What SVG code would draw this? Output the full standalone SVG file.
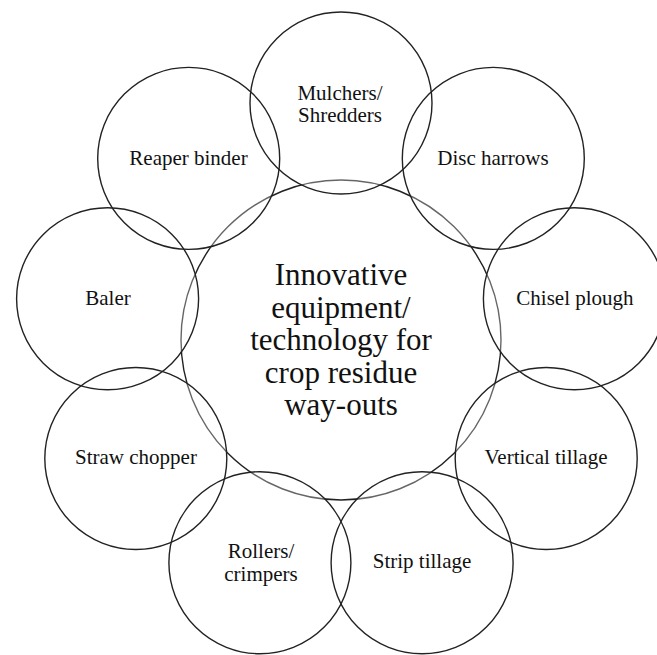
<svg xmlns="http://www.w3.org/2000/svg" width="657" height="655" viewBox="0 0 657 655">
  <style>
    .ring { fill: none; stroke: #222; stroke-width: 1.4; }
    .lbl { font-size: 21px; fill: #111; text-anchor: middle; }
    .hub { font-size: 31px; fill: #111; text-anchor: middle; }
  </style>
  <defs>
    <mask id="fade" maskUnits="userSpaceOnUse" x="0" y="0" width="657" height="655">
      <rect x="0" y="0" width="657" height="655" fill="#fff"/>
      <g fill="#b0b0b0">
        <circle cx="341" cy="103" r="91"/>
        <circle cx="493.3" cy="158.4" r="91"/>
        <circle cx="574.4" cy="298.8" r="91"/>
        <circle cx="546.2" cy="458.5" r="91"/>
        <circle cx="422.1" cy="562.7" r="91"/>
        <circle cx="259.9" cy="562.7" r="91"/>
        <circle cx="135.8" cy="458.5" r="91"/>
        <circle cx="107.6" cy="298.8" r="91"/>
        <circle cx="188.7" cy="158.4" r="91"/>
      </g>
    </mask>
  </defs>
  <rect x="0" y="0" width="657" height="655" fill="#fff"/>

  <g font-family="Liberation Serif, Times New Roman, serif">
  <g id="center">
    <circle class="ring" cx="341" cy="340" r="160" mask="url(#fade)"/>
    <text class="hub" x="341" y="285">Innovative</text>
    <text class="hub" x="341" y="317.5">equipment/</text>
    <text class="hub" x="341" y="350">technology for</text>
    <text class="hub" x="341" y="382.5">crop residue</text>
    <text class="hub" x="341" y="415">way-outs</text>
  </g>

  <g id="connectors"></g>

  <g id="mulchers">
    <circle class="ring" cx="341" cy="103" r="91"/>
    <text class="lbl" x="340" y="100">Mulchers/</text>
    <text class="lbl" x="340" y="122">Shredders</text>
  </g>
  <g id="disc-harrows">
    <circle class="ring" cx="493.3" cy="158.4" r="91"/>
    <text class="lbl" x="493" y="165">Disc harrows</text>
  </g>
  <g id="chisel-plough">
    <circle class="ring" cx="574.4" cy="298.8" r="91"/>
    <text class="lbl" x="575" y="305">Chisel plough</text>
  </g>
  <g id="vertical-tillage">
    <circle class="ring" cx="546.2" cy="458.5" r="91"/>
    <text class="lbl" x="546" y="464">Vertical tillage</text>
  </g>
  <g id="strip-tillage">
    <circle class="ring" cx="422.1" cy="562.7" r="91"/>
    <text class="lbl" x="422" y="568">Strip tillage</text>
  </g>
  <g id="rollers">
    <circle class="ring" cx="259.9" cy="562.7" r="91"/>
    <text class="lbl" x="261" y="558">Rollers/</text>
    <text class="lbl" x="261" y="580.5">crimpers</text>
  </g>
  <g id="straw-chopper">
    <circle class="ring" cx="135.8" cy="458.5" r="91"/>
    <text class="lbl" x="136" y="464">Straw chopper</text>
  </g>
  <g id="baler">
    <circle class="ring" cx="107.6" cy="298.8" r="91"/>
    <text class="lbl" x="108" y="305">Baler</text>
  </g>
  <g id="reaper-binder">
    <circle class="ring" cx="188.7" cy="158.4" r="91"/>
    <text class="lbl" x="188.5" y="165">Reaper binder</text>
  </g>
  </g>
</svg>
